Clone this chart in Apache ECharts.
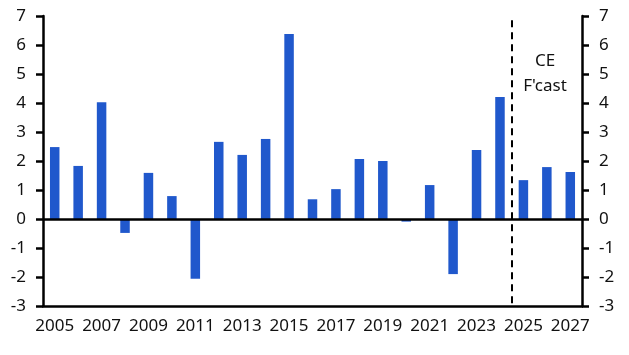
<!DOCTYPE html>
<html>
<head>
<meta charset="utf-8">
<script src="https://cdn.jsdelivr.net/npm/echarts@6/dist/echarts.min.js"></script>
<style>
html, body { margin: 0; padding: 0; background: #fff; }
#chart { width: 629px; height: 355px; }
</style>
</head>
<body>
<div id="chart"></div>
<script>
var years = ['2005', '2006', '2007', '2008', '2009', '2010', '2011', '2012', '2013', '2014', '2015', '2016',
    '2017', '2018', '2019', '2020', '2021', '2022', '2023', '2024', '2025', '2026', '2027'];
var growth = [2.48, 1.83, 4.03, -0.48, 1.59, 0.79, -2.06, 2.66, 2.21, 2.76, 6.38, 0.68,
    1.03, 2.07, 2.0, -0.09, 1.17, -1.9, 2.38, 4.21, 1.34, 1.79, 1.62];
var forecastStart = 20; // boundary before 2025
var noteLines = ['CE', "F'cast"];

var font = '"Noto Sans", sans-serif';

var myChart = echarts.init(document.getElementById('chart'));

function yAxisCfg(pos) {
    return {
        type: 'value',
        position: pos,
        min: -3,
        max: 7,
        interval: 1,
        splitLine: { show: false },
        axisLine: { show: true, lineStyle: { color: '#000', width: 2.5 } },
        axisTick: { show: true, length: 7, lineStyle: { color: '#000', width: 2.5 } },
        axisLabel: { color: '#111', fontSize: 17, fontFamily: font, margin: 17 }
    };
}

var option = {
    animation: false,
    grid: { left: 43, right: 47, top: 16, bottom: 49 },
    xAxis: [{
        type: 'category',
        data: years,
        position: 'bottom',
        axisLine: { onZero: false, lineStyle: { color: '#000', width: 2.5 } },
        axisTick: { interval: 1, length: 7, lineStyle: { color: '#000', width: 2.5 } },
        axisLabel: { interval: 1, color: '#111', fontSize: 17, fontFamily: font, margin: 12 }
    }, {
        // hidden value axis used for the forecast divider
        type: 'value',
        min: 0,
        max: years.length,
        show: false
    }],
    yAxis: [yAxisCfg('left'), yAxisCfg('right')],
    series: [{
        type: 'bar',
        data: growth,
        barWidth: 9.5,
        itemStyle: { color: '#2058cc' },
        markLine: {
            silent: true,
            symbol: 'none',
            label: { show: false },
            lineStyle: { color: '#000', width: 2.5, type: 'solid' },
            data: [{ yAxis: 0 }]
        }
    }, {
        type: 'line',
        xAxisIndex: 1,
        yAxisIndex: 0,
        data: [],
        markLine: {
            silent: true,
            symbol: 'none',
            label: { show: false },
            lineStyle: { color: '#000', width: 2, type: [7, 5] },
            data: [[{ coord: [forecastStart, 6.85] }, { coord: [forecastStart, -3] }]]
        }
    }],
    graphic: [{
        type: 'text',
        x: 545,
        y: 49,
        style: {
            text: noteLines.join('\n'),
            fill: '#111',
            font: '17px ' + font,
            lineHeight: 25,
            align: 'center',
            verticalAlign: 'top'
        }
    }]
};

myChart.setOption(option);
</script>
</body>
</html>
